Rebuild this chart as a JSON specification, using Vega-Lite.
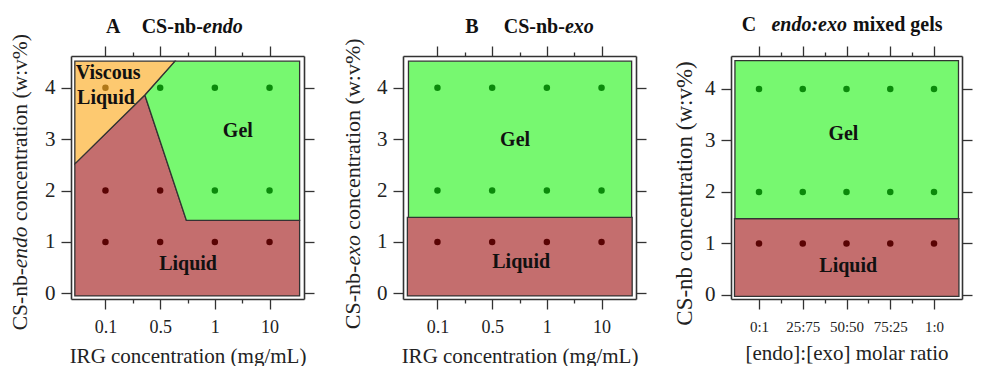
{
  "$schema": "https://vega.github.io/schema/vega-lite/v6.json",
  "background": "white",
  "padding": {"left": 10, "top": 14, "right": 5, "bottom": 0},
  "spacing": 27,
  "config": {
    "font": "'Liberation Serif', 'Times New Roman', Tinos, serif",
    "view": {"stroke": null},
    "axis": {"grid": false, "domainColor": "#333", "domainWidth": 1.6, "tickColor": "#333", "tickWidth": 1.3, "labelColor": "#222", "titleColor": "#222", "labelFont": "'Liberation Serif', 'Times New Roman', Tinos, serif", "titleFont": "'Liberation Serif', 'Times New Roman', Tinos, serif", "titleFontWeight": "normal"},
    "text": {"font": "'Liberation Serif', 'Times New Roman', Tinos, serif", "color": "#111"}
  },
  "datasets": {
    "polyA": [
      {"region": "Liquid", "i": 0, "x": -0.56, "y": -0.05},
      {"region": "Liquid", "i": 1, "x": 3.55, "y": -0.05},
      {"region": "Liquid", "i": 2, "x": 3.55, "y": 1.42},
      {"region": "Liquid", "i": 3, "x": 1.48, "y": 1.42},
      {"region": "Liquid", "i": 4, "x": 0.72, "y": 3.86},
      {"region": "Liquid", "i": 5, "x": -0.56, "y": 2.52},
      {"region": "Gel", "i": 0, "x": 0.72, "y": 3.86},
      {"region": "Gel", "i": 1, "x": 1.27, "y": 4.52},
      {"region": "Gel", "i": 2, "x": 3.55, "y": 4.52},
      {"region": "Gel", "i": 3, "x": 3.55, "y": 1.42},
      {"region": "Gel", "i": 4, "x": 1.48, "y": 1.42},
      {"region": "Viscous", "i": 0, "x": -0.56, "y": 2.52},
      {"region": "Viscous", "i": 1, "x": 0.72, "y": 3.86},
      {"region": "Viscous", "i": 2, "x": 1.27, "y": 4.52},
      {"region": "Viscous", "i": 3, "x": -0.56, "y": 4.52}
    ],
    "rectB": [
      {"region": "Gel", "x": -0.53, "x2": 3.55, "y": 1.48, "y2": 4.52},
      {"region": "Liquid", "x": -0.55, "x2": 3.56, "y": -0.05, "y2": 1.48}
    ],
    "rectC": [
      {"region": "Gel", "x": -0.55, "x2": 4.56, "y": 1.48, "y2": 4.55},
      {"region": "Liquid", "x": -0.56, "x2": 4.57, "y": -0.03, "y2": 1.48}
    ],
    "ptsA": [
      {"x": 0, "y": 4, "state": "Viscous"}, {"x": 0, "y": 2, "state": "Liquid"}, {"x": 0, "y": 1, "state": "Liquid"},
      {"x": 1, "y": 4, "state": "Gel"}, {"x": 1, "y": 2, "state": "Liquid"}, {"x": 1, "y": 1, "state": "Liquid"},
      {"x": 2, "y": 4, "state": "Gel"}, {"x": 2, "y": 2, "state": "Gel"}, {"x": 2, "y": 1, "state": "Liquid"},
      {"x": 3, "y": 4, "state": "Gel"}, {"x": 3, "y": 2, "state": "Gel"}, {"x": 3, "y": 1, "state": "Liquid"}
    ],
    "ptsB": [
      {"x": 0, "y": 4, "state": "Gel"}, {"x": 0, "y": 2, "state": "Gel"}, {"x": 0, "y": 1, "state": "Liquid"},
      {"x": 1, "y": 4, "state": "Gel"}, {"x": 1, "y": 2, "state": "Gel"}, {"x": 1, "y": 1, "state": "Liquid"},
      {"x": 2, "y": 4, "state": "Gel"}, {"x": 2, "y": 2, "state": "Gel"}, {"x": 2, "y": 1, "state": "Liquid"},
      {"x": 3, "y": 4, "state": "Gel"}, {"x": 3, "y": 2, "state": "Gel"}, {"x": 3, "y": 1, "state": "Liquid"}
    ],
    "ptsC": [
      {"x": 0, "y": 4, "state": "Gel"}, {"x": 0, "y": 2, "state": "Gel"}, {"x": 0, "y": 1, "state": "Liquid"},
      {"x": 1, "y": 4, "state": "Gel"}, {"x": 1, "y": 2, "state": "Gel"}, {"x": 1, "y": 1, "state": "Liquid"},
      {"x": 2, "y": 4, "state": "Gel"}, {"x": 2, "y": 2, "state": "Gel"}, {"x": 2, "y": 1, "state": "Liquid"},
      {"x": 3, "y": 4, "state": "Gel"}, {"x": 3, "y": 2, "state": "Gel"}, {"x": 3, "y": 1, "state": "Liquid"},
      {"x": 4, "y": 4, "state": "Gel"}, {"x": 4, "y": 2, "state": "Gel"}, {"x": 4, "y": 1, "state": "Liquid"}
    ],
    "textA": [
      {"g": "label", "text": "Gel", "x": 2.42, "y": 3.16},
      {"g": "label", "text": "Liquid", "x": 1.51, "y": 0.58},
      {"g": "label", "text": "Viscous", "x": 0.05, "y": 4.29},
      {"g": "label", "text": "Liquid", "x": 0.01, "y": 3.81},
      {"g": "headC", "text": "A", "x": 0.14, "y": 5.06},
      {"g": "headR", "text": "CS-nb-", "x": 1.78, "y": 5.06},
      {"g": "headIL", "text": "endo", "x": 1.78, "y": 5.06},
      {"g": "ytR", "text": "CS-nb-", "x": -1.54, "y": 0.49},
      {"g": "ytIL", "text": "endo", "x": -1.54, "y": 0.49},
      {"g": "ytL", "text": "concentration (w:v%)", "x": -1.54, "y": 1.41}
    ],
    "textB": [
      {"g": "label", "text": "Gel", "x": 1.42, "y": 2.98},
      {"g": "label", "text": "Liquid", "x": 1.53, "y": 0.61},
      {"g": "headC", "text": "B", "x": 0.63, "y": 5.06},
      {"g": "headR", "text": "CS-nb-", "x": 2.33, "y": 5.06},
      {"g": "headIL", "text": "exo", "x": 2.33, "y": 5.06},
      {"g": "ytR", "text": "CS-nb-", "x": -1.54, "y": 0.54},
      {"g": "ytIL", "text": "exo", "x": -1.54, "y": 0.54},
      {"g": "ytL", "text": "concentration (w:v%)", "x": -1.54, "y": 1.24}
    ],
    "textC": [
      {"g": "label", "text": "Gel", "x": 1.93, "y": 3.12},
      {"g": "label", "text": "Liquid", "x": 2.04, "y": 0.57},
      {"g": "headC", "text": "C", "x": -0.23, "y": 5.13},
      {"g": "headIR", "text": "endo:exo", "x": 2.01, "y": 5.13},
      {"g": "headL", "text": "mixed gels", "x": 2.15, "y": 5.13},
      {"g": "ytC", "text": "CS-nb concentration (w:v%)", "x": -1.69, "y": 1.97}
    ]
  },
  "hconcat": [
    {
      "width": 233, "height": 243,
      "resolve": {"axis": {"x": "independent", "y": "independent"}},
      "layer": [
        {
          "data": {"name": "polyA"},
          "transform": [{"filter": "datum.region === 'Liquid'"}],
          "mark": {"type": "line", "interpolate": "linear-closed", "fill": "#c46e6e", "stroke": "#333", "strokeWidth": 1.3},
          "encoding": {
            "x": {"field": "x", "type": "quantitative", "scale": {"domain": [-0.63, 3.63], "nice": false, "zero": false},
              "axis": {"orient": "bottom", "values": [0, 1, 2, 3], "labelExpr": "['0.1','0.5','1','10'][datum.value]", "tickSize": 10, "labelPadding": 9, "labelFontSize": 18, "title": "IRG concentration (mg/mL)", "titleFontSize": 21, "titlePadding": 9}},
            "y": {"field": "y", "type": "quantitative", "scale": {"domain": [-0.11, 4.62], "nice": false, "zero": false},
              "axis": {"orient": "left", "values": [0, 1, 2, 3, 4], "tickSize": 10, "labelPadding": 6, "labelFontSize": 21, "title": null}},
            "order": {"field": "i", "type": "quantitative"}
          }
        },
        {
          "data": {"name": "polyA"},
          "transform": [{"filter": "datum.region === 'Gel'"}],
          "mark": {"type": "line", "interpolate": "linear-closed", "fill": "#77f870", "stroke": "#333", "strokeWidth": 1.3},
          "encoding": {
            "x": {"field": "x", "type": "quantitative", "scale": {"domain": [-0.63, 3.63], "nice": false, "zero": false},
              "axis": {"orient": "top", "values": [0, 1, 2, 3], "tickSize": 10, "labels": false, "title": null}},
            "y": {"field": "y", "type": "quantitative", "scale": {"domain": [-0.11, 4.62], "nice": false, "zero": false},
              "axis": {"orient": "right", "values": [0, 1, 2, 3, 4], "tickSize": 10, "labels": false, "title": null}},
            "order": {"field": "i", "type": "quantitative"}
          }
        },
        {
          "data": {"name": "polyA"},
          "transform": [{"filter": "datum.region === 'Viscous'"}],
          "mark": {"type": "line", "interpolate": "linear-closed", "fill": "#fdc970", "stroke": "#333", "strokeWidth": 1.3},
          "encoding": {
            "x": {"field": "x", "type": "quantitative", "scale": {"domain": [-0.63, 3.63], "nice": false, "zero": false},
              "axis": {"orient": "bottom", "values": [0.5, 1.5, 2.5], "tickSize": 4, "labels": false, "domain": false, "title": null}},
            "y": {"field": "y", "type": "quantitative", "scale": {"domain": [-0.11, 4.62], "nice": false, "zero": false}, "axis": null},
            "order": {"field": "i", "type": "quantitative"}
          }
        },
        {
          "data": {"name": "ptsA"},
          "mark": {"type": "circle", "size": 42, "opacity": 1},
          "encoding": {
            "x": {"field": "x", "type": "quantitative", "scale": {"domain": [-0.63, 3.63], "nice": false, "zero": false},
              "axis": {"orient": "top", "values": [0.5, 1.5, 2.5], "tickSize": 4, "labels": false, "domain": false, "title": null}},
            "y": {"field": "y", "type": "quantitative", "scale": {"domain": [-0.11, 4.62], "nice": false, "zero": false}, "axis": null},
            "color": {"field": "state", "type": "nominal", "scale": {"domain": ["Gel", "Liquid", "Viscous"], "range": ["#0b8a0b", "#5a0404", "#b07818"]}, "legend": null}
          }
        },
        {
          "data": {"name": "textA"},
          "transform": [{"filter": "datum.g === 'label'"}],
          "mark": {"type": "text", "fontSize": 20, "fontWeight": "bold", "align": "center", "baseline": "middle"},
          "encoding": {
            "x": {"field": "x", "type": "quantitative", "scale": {"domain": [-0.63, 3.63], "nice": false, "zero": false}, "axis": null},
            "y": {"field": "y", "type": "quantitative", "scale": {"domain": [-0.11, 4.62], "nice": false, "zero": false}, "axis": null},
            "text": {"field": "text"}
          }
        },
        {
          "data": {"name": "textA"},
          "transform": [{"filter": "datum.g === 'headC'"}],
          "mark": {"type": "text", "fontSize": 20, "fontWeight": "bold", "align": "center", "baseline": "alphabetic"},
          "encoding": {
            "x": {"field": "x", "type": "quantitative", "scale": {"domain": [-0.63, 3.63], "nice": false, "zero": false}, "axis": null},
            "y": {"field": "y", "type": "quantitative", "scale": {"domain": [-0.11, 4.62], "nice": false, "zero": false}, "axis": null},
            "text": {"field": "text"}
          }
        },
        {
          "data": {"name": "textA"},
          "transform": [{"filter": "datum.g === 'headR'"}],
          "mark": {"type": "text", "fontSize": 20, "fontWeight": "bold", "align": "right", "baseline": "alphabetic"},
          "encoding": {
            "x": {"field": "x", "type": "quantitative", "scale": {"domain": [-0.63, 3.63], "nice": false, "zero": false}, "axis": null},
            "y": {"field": "y", "type": "quantitative", "scale": {"domain": [-0.11, 4.62], "nice": false, "zero": false}, "axis": null},
            "text": {"field": "text"}
          }
        },
        {
          "data": {"name": "textA"},
          "transform": [{"filter": "datum.g === 'headIL'"}],
          "mark": {"type": "text", "fontSize": 20, "fontWeight": "bold", "fontStyle": "italic", "align": "left", "baseline": "alphabetic"},
          "encoding": {
            "x": {"field": "x", "type": "quantitative", "scale": {"domain": [-0.63, 3.63], "nice": false, "zero": false}, "axis": null},
            "y": {"field": "y", "type": "quantitative", "scale": {"domain": [-0.11, 4.62], "nice": false, "zero": false}, "axis": null},
            "text": {"field": "text"}
          }
        },
        {
          "data": {"name": "textA"},
          "transform": [{"filter": "datum.g === 'ytR'"}],
          "mark": {"type": "text", "fontSize": 21.5, "angle": 270, "align": "right", "baseline": "middle", "color": "#222"},
          "encoding": {
            "x": {"field": "x", "type": "quantitative", "scale": {"domain": [-0.63, 3.63], "nice": false, "zero": false}, "axis": null},
            "y": {"field": "y", "type": "quantitative", "scale": {"domain": [-0.11, 4.62], "nice": false, "zero": false}, "axis": null},
            "text": {"field": "text"}
          }
        },
        {
          "data": {"name": "textA"},
          "transform": [{"filter": "datum.g === 'ytIL'"}],
          "mark": {"type": "text", "fontSize": 21.5, "fontStyle": "italic", "angle": 270, "align": "left", "baseline": "middle", "color": "#222"},
          "encoding": {
            "x": {"field": "x", "type": "quantitative", "scale": {"domain": [-0.63, 3.63], "nice": false, "zero": false}, "axis": null},
            "y": {"field": "y", "type": "quantitative", "scale": {"domain": [-0.11, 4.62], "nice": false, "zero": false}, "axis": null},
            "text": {"field": "text"}
          }
        },
        {
          "data": {"name": "textA"},
          "transform": [{"filter": "datum.g === 'ytL'"}],
          "mark": {"type": "text", "fontSize": 21.5, "angle": 270, "align": "left", "baseline": "middle", "color": "#222"},
          "encoding": {
            "x": {"field": "x", "type": "quantitative", "scale": {"domain": [-0.63, 3.63], "nice": false, "zero": false}, "axis": null},
            "y": {"field": "y", "type": "quantitative", "scale": {"domain": [-0.11, 4.62], "nice": false, "zero": false}, "axis": null},
            "text": {"field": "text"}
          }
        }
      ]
    },
    {
      "width": 233, "height": 243,
      "resolve": {"axis": {"x": "independent", "y": "independent"}},
      "layer": [
        {
          "data": {"name": "rectB"},
          "transform": [{"filter": "datum.region === 'Liquid'"}],
          "mark": {"type": "rect", "fill": "#c46e6e", "stroke": "#333", "strokeWidth": 1.3},
          "encoding": {
            "x": {"field": "x", "type": "quantitative", "scale": {"domain": [-0.63, 3.63], "nice": false, "zero": false},
              "axis": {"orient": "bottom", "values": [0, 1, 2, 3], "labelExpr": "['0.1','0.5','1','10'][datum.value]", "tickSize": 10, "labelPadding": 9, "labelFontSize": 18, "title": "IRG concentration (mg/mL)", "titleFontSize": 21, "titlePadding": 9}},
            "x2": {"field": "x2"},
            "y": {"field": "y", "type": "quantitative", "scale": {"domain": [-0.11, 4.62], "nice": false, "zero": false},
              "axis": {"orient": "left", "values": [0, 1, 2, 3, 4], "tickSize": 10, "labelPadding": 6, "labelFontSize": 21, "title": null}},
            "y2": {"field": "y2"}
          }
        },
        {
          "data": {"name": "rectB"},
          "transform": [{"filter": "datum.region === 'Gel'"}],
          "mark": {"type": "rect", "fill": "#77f870", "stroke": "#333", "strokeWidth": 1.3},
          "encoding": {
            "x": {"field": "x", "type": "quantitative", "scale": {"domain": [-0.63, 3.63], "nice": false, "zero": false},
              "axis": {"orient": "top", "values": [0, 1, 2, 3], "tickSize": 10, "labels": false, "title": null}},
            "x2": {"field": "x2"},
            "y": {"field": "y", "type": "quantitative", "scale": {"domain": [-0.11, 4.62], "nice": false, "zero": false},
              "axis": {"orient": "right", "values": [0, 1, 2, 3, 4], "tickSize": 10, "labels": false, "title": null}},
            "y2": {"field": "y2"}
          }
        },
        {
          "data": {"name": "ptsB"},
          "mark": {"type": "circle", "size": 42, "opacity": 1},
          "encoding": {
            "x": {"field": "x", "type": "quantitative", "scale": {"domain": [-0.63, 3.63], "nice": false, "zero": false},
              "axis": {"orient": "bottom", "values": [0.5, 1.5, 2.5], "tickSize": 4, "labels": false, "domain": false, "title": null}},
            "y": {"field": "y", "type": "quantitative", "scale": {"domain": [-0.11, 4.62], "nice": false, "zero": false}, "axis": null},
            "color": {"field": "state", "type": "nominal", "scale": {"domain": ["Gel", "Liquid", "Viscous"], "range": ["#0b8a0b", "#5a0404", "#b07818"]}, "legend": null}
          }
        },
        {
          "data": {"name": "textB"},
          "transform": [{"filter": "datum.g === 'label'"}],
          "mark": {"type": "text", "fontSize": 20, "fontWeight": "bold", "align": "center", "baseline": "middle"},
          "encoding": {
            "x": {"field": "x", "type": "quantitative", "scale": {"domain": [-0.63, 3.63], "nice": false, "zero": false},
              "axis": {"orient": "top", "values": [0.5, 1.5, 2.5], "tickSize": 4, "labels": false, "domain": false, "title": null}},
            "y": {"field": "y", "type": "quantitative", "scale": {"domain": [-0.11, 4.62], "nice": false, "zero": false}, "axis": null},
            "text": {"field": "text"}
          }
        },
        {
          "data": {"name": "textB"},
          "transform": [{"filter": "datum.g === 'headC'"}],
          "mark": {"type": "text", "fontSize": 20, "fontWeight": "bold", "align": "center", "baseline": "alphabetic"},
          "encoding": {
            "x": {"field": "x", "type": "quantitative", "scale": {"domain": [-0.63, 3.63], "nice": false, "zero": false}, "axis": null},
            "y": {"field": "y", "type": "quantitative", "scale": {"domain": [-0.11, 4.62], "nice": false, "zero": false}, "axis": null},
            "text": {"field": "text"}
          }
        },
        {
          "data": {"name": "textB"},
          "transform": [{"filter": "datum.g === 'headR'"}],
          "mark": {"type": "text", "fontSize": 20, "fontWeight": "bold", "align": "right", "baseline": "alphabetic"},
          "encoding": {
            "x": {"field": "x", "type": "quantitative", "scale": {"domain": [-0.63, 3.63], "nice": false, "zero": false}, "axis": null},
            "y": {"field": "y", "type": "quantitative", "scale": {"domain": [-0.11, 4.62], "nice": false, "zero": false}, "axis": null},
            "text": {"field": "text"}
          }
        },
        {
          "data": {"name": "textB"},
          "transform": [{"filter": "datum.g === 'headIL'"}],
          "mark": {"type": "text", "fontSize": 20, "fontWeight": "bold", "fontStyle": "italic", "align": "left", "baseline": "alphabetic"},
          "encoding": {
            "x": {"field": "x", "type": "quantitative", "scale": {"domain": [-0.63, 3.63], "nice": false, "zero": false}, "axis": null},
            "y": {"field": "y", "type": "quantitative", "scale": {"domain": [-0.11, 4.62], "nice": false, "zero": false}, "axis": null},
            "text": {"field": "text"}
          }
        },
        {
          "data": {"name": "textB"},
          "transform": [{"filter": "datum.g === 'ytR'"}],
          "mark": {"type": "text", "fontSize": 22, "angle": 270, "align": "right", "baseline": "middle", "color": "#222"},
          "encoding": {
            "x": {"field": "x", "type": "quantitative", "scale": {"domain": [-0.63, 3.63], "nice": false, "zero": false}, "axis": null},
            "y": {"field": "y", "type": "quantitative", "scale": {"domain": [-0.11, 4.62], "nice": false, "zero": false}, "axis": null},
            "text": {"field": "text"}
          }
        },
        {
          "data": {"name": "textB"},
          "transform": [{"filter": "datum.g === 'ytIL'"}],
          "mark": {"type": "text", "fontSize": 22, "fontStyle": "italic", "angle": 270, "align": "left", "baseline": "middle", "color": "#222"},
          "encoding": {
            "x": {"field": "x", "type": "quantitative", "scale": {"domain": [-0.63, 3.63], "nice": false, "zero": false}, "axis": null},
            "y": {"field": "y", "type": "quantitative", "scale": {"domain": [-0.11, 4.62], "nice": false, "zero": false}, "axis": null},
            "text": {"field": "text"}
          }
        },
        {
          "data": {"name": "textB"},
          "transform": [{"filter": "datum.g === 'ytL'"}],
          "mark": {"type": "text", "fontSize": 22, "angle": 270, "align": "left", "baseline": "middle", "color": "#222"},
          "encoding": {
            "x": {"field": "x", "type": "quantitative", "scale": {"domain": [-0.63, 3.63], "nice": false, "zero": false}, "axis": null},
            "y": {"field": "y", "type": "quantitative", "scale": {"domain": [-0.11, 4.62], "nice": false, "zero": false}, "axis": null},
            "text": {"field": "text"}
          }
        }
      ]
    },
    {
      "width": 231, "height": 243,
      "resolve": {"axis": {"x": "independent", "y": "independent"}},
      "layer": [
        {
          "data": {"name": "rectC"},
          "transform": [{"filter": "datum.region === 'Liquid'"}],
          "mark": {"type": "rect", "fill": "#c46e6e", "stroke": "#333", "strokeWidth": 1.3},
          "encoding": {
            "x": {"field": "x", "type": "quantitative", "scale": {"domain": [-0.64, 4.64], "nice": false, "zero": false},
              "axis": {"orient": "bottom", "values": [0, 1, 2, 3, 4], "labelExpr": "['0:1','25:75','50:50','75:25','1:0'][datum.value]", "tickSize": 10, "labelPadding": 10, "labelFontSize": 15, "title": "[endo]:[exo] molar ratio", "titleFontSize": 21, "titlePadding": 8}},
            "x2": {"field": "x2"},
            "y": {"field": "y", "type": "quantitative", "scale": {"domain": [-0.08, 4.64], "nice": false, "zero": false},
              "axis": {"orient": "left", "values": [0, 1, 2, 3, 4], "tickSize": 10, "labelPadding": 6, "labelFontSize": 21, "title": null}},
            "y2": {"field": "y2"}
          }
        },
        {
          "data": {"name": "rectC"},
          "transform": [{"filter": "datum.region === 'Gel'"}],
          "mark": {"type": "rect", "fill": "#77f870", "stroke": "#333", "strokeWidth": 1.3},
          "encoding": {
            "x": {"field": "x", "type": "quantitative", "scale": {"domain": [-0.64, 4.64], "nice": false, "zero": false},
              "axis": {"orient": "top", "values": [0, 1, 2, 3, 4], "tickSize": 10, "labels": false, "title": null}},
            "x2": {"field": "x2"},
            "y": {"field": "y", "type": "quantitative", "scale": {"domain": [-0.08, 4.64], "nice": false, "zero": false},
              "axis": {"orient": "right", "values": [0, 1, 2, 3, 4], "tickSize": 10, "labels": false, "title": null}},
            "y2": {"field": "y2"}
          }
        },
        {
          "data": {"name": "ptsC"},
          "mark": {"type": "circle", "size": 42, "opacity": 1},
          "encoding": {
            "x": {"field": "x", "type": "quantitative", "scale": {"domain": [-0.64, 4.64], "nice": false, "zero": false},
              "axis": {"orient": "bottom", "values": [0.5, 1.5, 2.5, 3.5], "tickSize": 4, "labels": false, "domain": false, "title": null}},
            "y": {"field": "y", "type": "quantitative", "scale": {"domain": [-0.08, 4.64], "nice": false, "zero": false}, "axis": null},
            "color": {"field": "state", "type": "nominal", "scale": {"domain": ["Gel", "Liquid", "Viscous"], "range": ["#0b8a0b", "#5a0404", "#b07818"]}, "legend": null}
          }
        },
        {
          "data": {"name": "textC"},
          "transform": [{"filter": "datum.g === 'label'"}],
          "mark": {"type": "text", "fontSize": 20, "fontWeight": "bold", "align": "center", "baseline": "middle"},
          "encoding": {
            "x": {"field": "x", "type": "quantitative", "scale": {"domain": [-0.64, 4.64], "nice": false, "zero": false},
              "axis": {"orient": "top", "values": [0.5, 1.5, 2.5, 3.5], "tickSize": 4, "labels": false, "domain": false, "title": null}},
            "y": {"field": "y", "type": "quantitative", "scale": {"domain": [-0.08, 4.64], "nice": false, "zero": false}, "axis": null},
            "text": {"field": "text"}
          }
        },
        {
          "data": {"name": "textC"},
          "transform": [{"filter": "datum.g === 'headC'"}],
          "mark": {"type": "text", "fontSize": 20, "fontWeight": "bold", "align": "center", "baseline": "alphabetic"},
          "encoding": {
            "x": {"field": "x", "type": "quantitative", "scale": {"domain": [-0.64, 4.64], "nice": false, "zero": false}, "axis": null},
            "y": {"field": "y", "type": "quantitative", "scale": {"domain": [-0.08, 4.64], "nice": false, "zero": false}, "axis": null},
            "text": {"field": "text"}
          }
        },
        {
          "data": {"name": "textC"},
          "transform": [{"filter": "datum.g === 'headIR'"}],
          "mark": {"type": "text", "fontSize": 20, "fontWeight": "bold", "fontStyle": "italic", "align": "right", "baseline": "alphabetic"},
          "encoding": {
            "x": {"field": "x", "type": "quantitative", "scale": {"domain": [-0.64, 4.64], "nice": false, "zero": false}, "axis": null},
            "y": {"field": "y", "type": "quantitative", "scale": {"domain": [-0.08, 4.64], "nice": false, "zero": false}, "axis": null},
            "text": {"field": "text"}
          }
        },
        {
          "data": {"name": "textC"},
          "transform": [{"filter": "datum.g === 'headL'"}],
          "mark": {"type": "text", "fontSize": 20, "fontWeight": "bold", "align": "left", "baseline": "alphabetic"},
          "encoding": {
            "x": {"field": "x", "type": "quantitative", "scale": {"domain": [-0.64, 4.64], "nice": false, "zero": false}, "axis": null},
            "y": {"field": "y", "type": "quantitative", "scale": {"domain": [-0.08, 4.64], "nice": false, "zero": false}, "axis": null},
            "text": {"field": "text"}
          }
        },
        {
          "data": {"name": "textC"},
          "transform": [{"filter": "datum.g === 'ytC'"}],
          "mark": {"type": "text", "fontSize": 23, "angle": 270, "align": "center", "baseline": "middle", "color": "#222"},
          "encoding": {
            "x": {"field": "x", "type": "quantitative", "scale": {"domain": [-0.64, 4.64], "nice": false, "zero": false}, "axis": null},
            "y": {"field": "y", "type": "quantitative", "scale": {"domain": [-0.08, 4.64], "nice": false, "zero": false}, "axis": null},
            "text": {"field": "text"}
          }
        }
      ]
    }
  ]
}
